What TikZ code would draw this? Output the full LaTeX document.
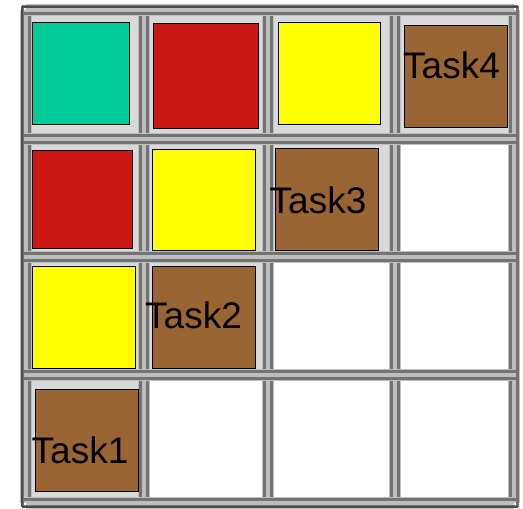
\documentclass[tikz,border=0pt]{standalone}
\usepackage{fontspec}
\setmainfont{Liberation Sans}
\definecolor{cteal}{RGB}{0,204,153}
\definecolor{cred}{RGB}{204,24,20}
\definecolor{cyel}{RGB}{255,255,0}
\definecolor{cbrown}{RGB}{153,102,51}
\definecolor{cellgrey}{RGB}{217,217,217}
\definecolor{bandlight}{RGB}{190,190,190}
\definecolor{banddark}{RGB}{115,115,115}
\tikzset{
  sq/.style={draw=black, line width=0.9pt, inner sep=0pt, outer sep=0pt},
  lbl/.style={font=\fontsize{37}{37}\selectfont, anchor=base, inner sep=0pt},
  band/.style={draw=bandlight, line width=12pt},
  bline/.style={draw=banddark, line width=2.2pt},
}
\begin{document}
\begin{tikzpicture}[x=1pt,y=-1pt]
\useasboundingbox (0,0) rectangle (523,509);
\fill[white] (0,0) rectangle (523,509);
% grey cell backgrounds
\fill[cellgrey] (26,10) rectangle (514,139);
\fill[cellgrey] (26,139) rectangle (395,257);
\fill[cellgrey] (26,257) rectangle (268,375);
\fill[cellgrey] (26,375) rectangle (144,503);
% grid bands
\foreach \x in {26,144,268,395,514} {
  \draw[band] (\x,10) -- (\x,503);
  \draw[bline] (\x-3.5,6) -- (\x-3.5,507);
  \draw[bline] (\x+3.5,6) -- (\x+3.5,507);
}
\foreach \y in {10,139,257,375,503} {
  \draw[band] (26,\y) -- (514,\y);
  \draw[bline] (22,\y-3.5) -- (518,\y-3.5);
  \draw[bline] (22,\y+3.5) -- (518,\y+3.5);
}
\draw[draw=black!70, line width=2.4pt] (22,7) -- (518,7);
\draw[draw=black!70, line width=2.4pt] (22,7) -- (22,507);
\draw[draw=black!70, line width=2.4pt] (22,507) -- (518,507);
% squares
\node[sq, fill=cteal, minimum width=97pt, minimum height=102pt] (s11) at (80.5,73) {};
\node[sq, fill=cred, minimum width=105pt, minimum height=105pt] (s12) at (205.5,75.5) {};
\node[sq, fill=cyel, minimum width=102pt, minimum height=102pt] (s13) at (329,73) {};
\node[sq, fill=cbrown, minimum width=103pt, minimum height=102pt] (s14) at (455.5,76) {};
\node[sq, fill=cred, minimum width=100pt, minimum height=98pt] (s21) at (82,199) {};
\node[sq, fill=cyel, minimum width=103pt, minimum height=101pt] (s22) at (203.5,199.5) {};
\node[sq, fill=cbrown, minimum width=103pt, minimum height=102pt] (s23) at (326.5,199) {};
\node[sq, fill=cyel, minimum width=103pt, minimum height=102pt] (s31) at (83.5,317) {};
\node[sq, fill=cbrown, minimum width=103pt, minimum height=102pt] (s32) at (203.5,317) {};
\node[sq, fill=cbrown, minimum width=103pt, minimum height=102pt] (s41) at (86.5,440) {};
% labels
\node[lbl] (t4) at (451.5,78) {Task4};
\node[lbl] (t3) at (318,213) {Task3};
\node[lbl] (t2) at (193.5,328) {Task2};
\node[lbl] (t1) at (80,463) {Task1};
\end{tikzpicture}
\end{document}
